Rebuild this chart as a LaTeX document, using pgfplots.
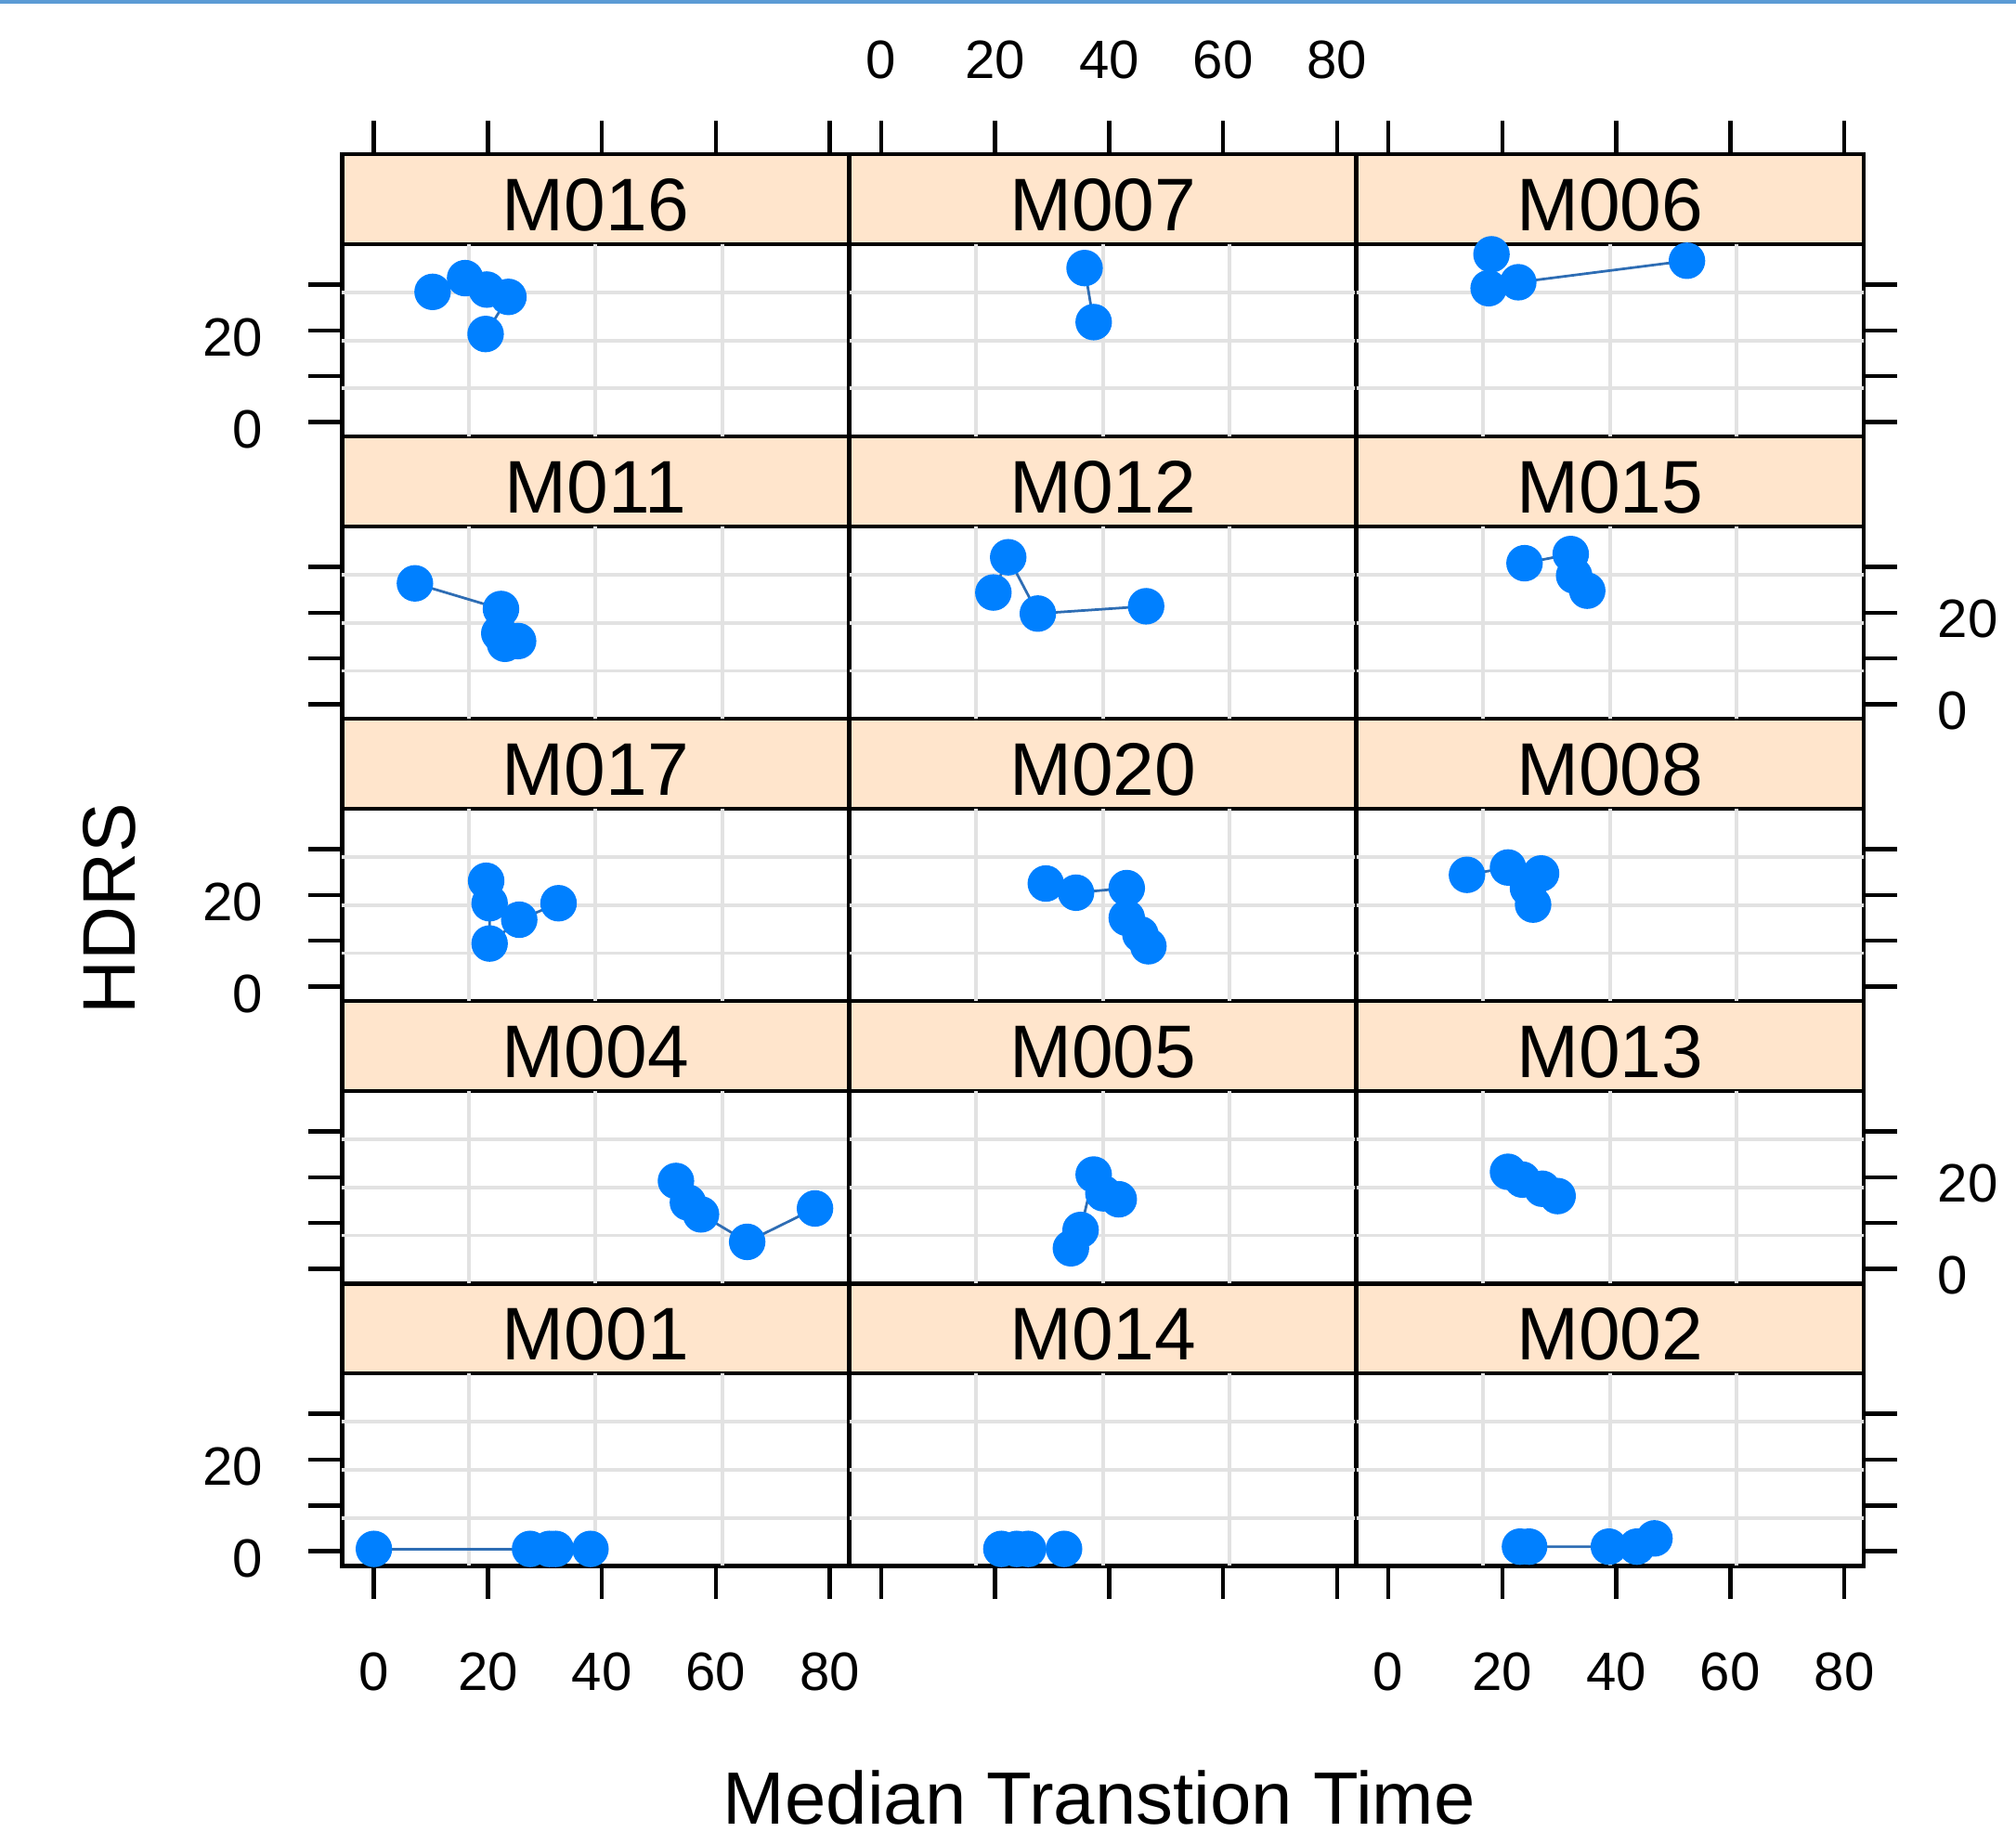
\documentclass[border=0pt]{standalone}
\usepackage{fontspec}
\setmainfont{Liberation Sans}
\usepackage{pgfplots}
\pgfplotsset{compat=1.18}
\definecolor{ptblue}{HTML}{0080FF}
\definecolor{lnblue}{HTML}{2E6DB4}
\definecolor{stripc}{HTML}{FFE5CC}
\definecolor{gridc}{HTML}{E2E2E2}
\definecolor{topblue}{HTML}{5B9BD5}
\newcommand\labfont{\fontsize{10.5}{12}\selectfont}
\newcommand\stripfont{\fontsize{14.5}{16}\selectfont}
\pgfplotsset{
  common/.style={scale only axis, width=98.625pt, xmin=-5.6, xmax=83.4,
    anchor=south west, axis line style={line width=0.8pt},
    tick align=outside, major tick length=6.5pt,
    tick style={black, line width=0.8pt},
    xtick=\empty, ytick=\empty},
  panel/.style={common, height=37.4pt, ymin=-3.2, ymax=38.8,
    extra x ticks={16.65,38.9,61.15}, extra y ticks={7.3,17.8,28.3},
    extra x tick labels={}, extra y tick labels={},
    extra tick style={grid=major, major tick length=0pt},
    major grid style={gridc, line width=0.7pt}},
  strip/.style={common, height=17.5pt, ymin=0, ymax=1,
    axis background/.style={fill=stripc}},
  yleft/.style={ytick={0,10,20,30}, ytick pos=left, yticklabel pos=left,
    yticklabel style={font=\labfont, inner sep=0pt, xshift=-8.75pt, yshift=-1.4pt}},
  yright/.style={ytick={0,10,20,30}, ytick pos=right, yticklabel pos=right,
    yticklabel style={font=\labfont, inner sep=0pt, xshift=7.75pt, yshift=-1.2pt}},
  ylab/.style={yticklabels={0,,20,}},
  ynolab/.style={yticklabels={,,,}},
  xbottom/.style={xtick={0,20,40,60,80}, xtick pos=bottom, xticklabel pos=bottom,
    xticklabel style={font=\labfont, inner sep=0pt, yshift=-10.25pt}},
  xtop/.style={xtick={0,20,40,60,80}, xtick pos=top, xticklabel pos=top,
    xticklabel style={font=\labfont, inner sep=0pt, yshift=8pt}},
  xlab/.style={xticklabels={0,20,40,60,80}},
  xnolab/.style={xticklabels={,,,,}},
  pts/.style={lnblue, line width=0.5pt, mark=*, mark size=3.3pt,
    mark options={draw=ptblue, fill=ptblue}},
}
\newcommand\Strip[4]{\begin{axis}[strip, at={(#1,#2)}, #4]
  \node[anchor=base, font=\stripfont] at (rel axis cs:0.5,0.15) {#3};
\end{axis}}
\begin{document}
\begin{tikzpicture}
\useasboundingbox (0,0) rectangle (392pt,356.25pt);
\fill[topblue] (0,355.5pt) rectangle (392pt,356.25pt);

% ---------- strips ----------
\Strip{66.5pt}{308.75pt}{M016}{xtop, xnolab}
\Strip{165.125pt}{308.75pt}{M007}{xtop, xlab}
\Strip{263.75pt}{308.75pt}{M006}{xtop, xnolab}
\Strip{66.5pt}{253.85pt}{M011}{}
\Strip{165.125pt}{253.85pt}{M012}{}
\Strip{263.75pt}{253.85pt}{M015}{}
\Strip{66.5pt}{198.95pt}{M017}{}
\Strip{165.125pt}{198.95pt}{M020}{}
\Strip{263.75pt}{198.95pt}{M008}{}
\Strip{66.5pt}{144.05pt}{M004}{}
\Strip{165.125pt}{144.05pt}{M005}{}
\Strip{263.75pt}{144.05pt}{M013}{}
\Strip{66.5pt}{89.15pt}{M001}{}
\Strip{165.125pt}{89.15pt}{M014}{}
\Strip{263.75pt}{89.15pt}{M002}{}

% ---------- row 1 ----------
\begin{axis}[panel, at={(66.5pt,271.35pt)}, yleft, ylab]
\addplot[pts] coordinates {(10.3,28.4) (16.0,31.4) (19.8,28.9) (23.6,27.3) (19.6,19.2)};
\end{axis}
\begin{axis}[panel, at={(165.125pt,271.35pt)}]
\addplot[pts] coordinates {(35.7,33.6) (37.3,21.8)};
\end{axis}
\begin{axis}[panel, at={(263.75pt,271.35pt)}, yright, ynolab]
\addplot[pts] coordinates {(18.1,36.6) (17.6,29.2) (22.8,30.5) (52.4,35.2)};
\end{axis}

% ---------- row 2 ----------
\begin{axis}[panel, at={(66.5pt,216.45pt)}, yleft, ynolab]
\addplot[pts] coordinates {(7.2,26.4) (22.3,20.8) (22.0,15.5) (23.0,13.2) (25.3,13.8)};
\end{axis}
\begin{axis}[panel, at={(165.125pt,216.45pt)}]
\addplot[pts] coordinates {(19.7,24.4) (22.3,32.1) (27.5,19.8) (46.5,21.4)};
\end{axis}
\begin{axis}[panel, at={(263.75pt,216.45pt)}, yright, ylab]
\addplot[pts] coordinates {(23.9,30.8) (32.0,32.8) (32.6,28.1) (34.9,24.8)};
\end{axis}

% ---------- row 3 ----------
\begin{axis}[panel, at={(66.5pt,161.55pt)}, yleft, ylab]
\addplot[pts] coordinates {(19.7,23.1) (20.3,18.2) (20.3,9.4) (25.5,14.6) (32.4,18.2)};
\end{axis}
\begin{axis}[panel, at={(165.125pt,161.55pt)}]
\addplot[pts] coordinates {(28.9,22.5) (34.2,20.5) (43.1,21.5) (43.1,15.0) (45.5,11.4) (46.9,8.8)};
\end{axis}
\begin{axis}[panel, at={(263.75pt,161.55pt)}, yright, ynolab]
\addplot[pts] coordinates {(13.8,24.4) (21.0,26.0) (26.8,24.7) (24.5,21.5) (25.4,17.9)};
\end{axis}

% ---------- row 4 ----------
\begin{axis}[panel, at={(66.5pt,106.65pt)}, yleft, ynolab]
\addplot[pts] coordinates {(53.0,19.2) (55.1,14.5) (57.4,11.9) (65.5,5.9) (77.4,13.2)};
\end{axis}
\begin{axis}[panel, at={(165.125pt,106.65pt)}]
\addplot[pts] coordinates {(33.3,4.5) (35.0,8.5) (37.3,20.6) (39.0,16.5) (41.7,15.2)};
\end{axis}
\begin{axis}[panel, at={(263.75pt,106.65pt)}, yright, ylab]
\addplot[pts] coordinates {(21.0,21.2) (23.5,19.5) (27.0,17.5) (29.7,15.9)};
\end{axis}

% ---------- row 5 ----------
\begin{axis}[panel, at={(66.5pt,51.75pt)}, yleft, ylab, xbottom, xlab]
\addplot[pts] coordinates {(0.0,0.5) (27.4,0.5) (30.8,0.5) (31.9,0.5) (38.0,0.5)};
\end{axis}
\begin{axis}[panel, at={(165.125pt,51.75pt)}, xbottom, xnolab]
\addplot[pts] coordinates {(21.1,0.5) (23.8,0.5) (25.8,0.5) (32.1,0.5)};
\end{axis}
\begin{axis}[panel, at={(263.75pt,51.75pt)}, yright, ynolab, xbottom, xlab]
\addplot[pts] coordinates {(23.1,1.0) (24.7,1.0) (38.7,1.0) (43.6,1.0) (46.7,2.8)};
\end{axis}

\node[rotate=90, font=\fontsize{14.5}{16}\selectfont] at (21.25pt,179.5pt) {HDRS};
\node[anchor=base, font=\fontsize{14.4}{16}\selectfont] at (213.75pt,1.5pt) {Median Transtion Time};
\end{tikzpicture}
\end{document}
